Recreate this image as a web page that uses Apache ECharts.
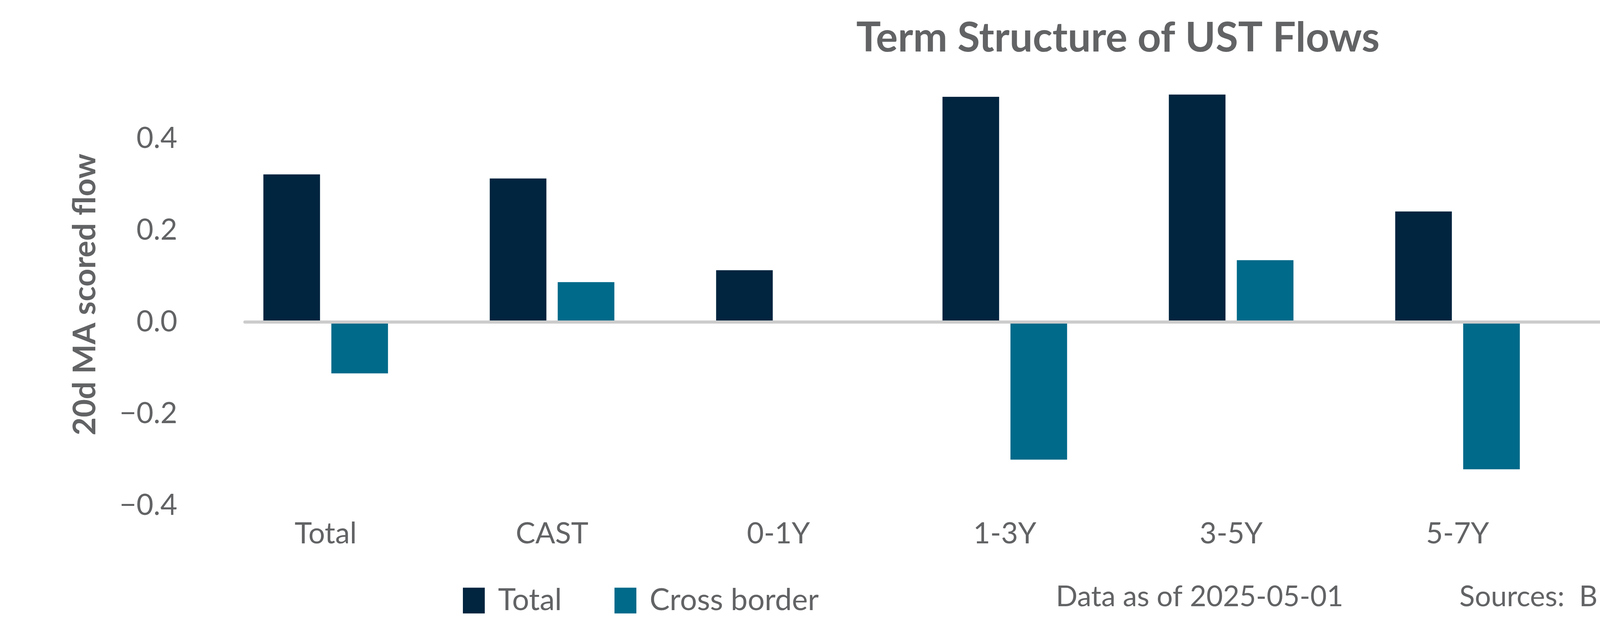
<!DOCTYPE html>
<html>
<head>
<meta charset="utf-8">
<script src="https://cdn.jsdelivr.net/npm/echarts@6/dist/echarts.min.js"></script>
<style>
html,body{margin:0;padding:0;background:#fff;}
#chart{width:5400px;height:1596px;}
</style>
</head>
<body>
<div id="chart"></div>
<script>
const categories = ['Total', 'CAST', '0-1Y', '1-3Y', '3-5Y', '5-7Y', '7-10Y', '10+Y'];
const totalFlow = [0.322, 0.313, 0.113, 0.491, 0.496, 0.241, 0.456, 0.088];
const crossBorderFlow = [-0.112, 0.087, 0, -0.300, 0.135, -0.321, -0.368, 0.226];
const seriesNames = ['Total', 'Cross border'];
const yTicks = [-0.4, -0.2, 0.0, 0.2, 0.4];
const titleText = 'Term Structure of UST Flows';
const yAxisTitle = '20d MA scored flow';
const dataNote = 'Data as of 2025-05-01';
const sourceNote = 'Sources:  BNY, WM/Refinitiv, Bloomberg';

const FONT = 'Lato, "Noto Sans", sans-serif';
const TXT = '#626365';
const Y_MIN = -0.4, Y_MAX = 0.52;

const fmt = v => {
  const ok = yTicks.some(t => Math.abs(t - v) < 1e-6);
  if (!ok) return '';
  return (v < -1e-9 ? '\u2212' : '') + Math.abs(v).toFixed(1);
};

const chart = echarts.init(document.getElementById('chart'), null, {renderer: 'canvas'});
chart.setOption({
  backgroundColor: '#ffffff',
  animation: false,
  title: [
    {
      text: titleText, left: 2862, textAlign: 'center', top: 46, padding: 0,
      textStyle: {fontFamily: FONT, fontWeight: 'bold', fontSize: 105, lineHeight: 105, color: TXT}
    },
    {
      text: dataNote, left: 2703, top: 1493, padding: 0,
      textStyle: {fontFamily: FONT, fontWeight: 'normal', fontSize: 73, lineHeight: 73, color: TXT}
    },
    {
      text: sourceNote, left: 3736, top: 1493, padding: 0,
      textStyle: {fontFamily: FONT, fontWeight: 'normal', fontSize: 73, lineHeight: 73, color: TXT}
    }
  ],
  legend: {
    data: seriesNames, left: 1185, top: 1500, padding: 0,
    icon: 'rect', itemWidth: 56, itemHeight: 66, itemGap: 135,
    textStyle: {fontFamily: FONT, fontSize: 77, color: TXT, padding: [0, 0, 0, 29]}
  },
  grid: [
    {left: 544, right: 220, top: 214, bottom: 301},
    {left: 627, right: 303, top: 214, bottom: 301}
  ],
  xAxis: [
    {
      type: 'category', data: categories, gridIndex: 0, position: 'bottom',
      axisLine: {show: false, onZero: false}, axisTick: {show: false},
      axisLabel: {fontFamily: FONT, fontSize: 75, color: TXT, margin: 35},
      splitLine: {show: false}
    },
    {
      type: 'value', gridIndex: 1, min: 0, max: 1, z: 10,
      axisLine: {show: true, onZero: true, lineStyle: {color: '#cccccc', width: 8}},
      axisTick: {show: false}, axisLabel: {show: false}, splitLine: {show: false}
    }
  ],
  yAxis: [
    {
      type: 'value', gridIndex: 0, min: Y_MIN, max: Y_MAX, interval: 0.2,
      name: yAxisTitle, nameLocation: 'middle', nameGap: 286,
      nameTextStyle: {fontFamily: FONT, fontWeight: 'bold', fontSize: 80, color: TXT},
      axisLine: {show: false}, axisTick: {show: false}, splitLine: {show: false},
      axisLabel: {fontFamily: FONT, fontSize: 75, color: TXT, margin: 90, formatter: fmt}
    },
    {
      type: 'value', gridIndex: 1, min: Y_MIN, max: Y_MAX, show: false,
      axisLine: {show: false}, splitLine: {show: false}
    }
  ],
  series: [
    {
      name: seriesNames[0], type: 'bar', data: totalFlow, xAxisIndex: 0, yAxisIndex: 0,
      barWidth: 145, barGap: '20%', itemStyle: {color: '#01243f'}
    },
    {
      name: seriesNames[1], type: 'bar', data: crossBorderFlow, xAxisIndex: 0, yAxisIndex: 0,
      barWidth: 145, barGap: '20%', itemStyle: {color: '#006a8a'}
    }
  ]
});
</script>
</body>
</html>
